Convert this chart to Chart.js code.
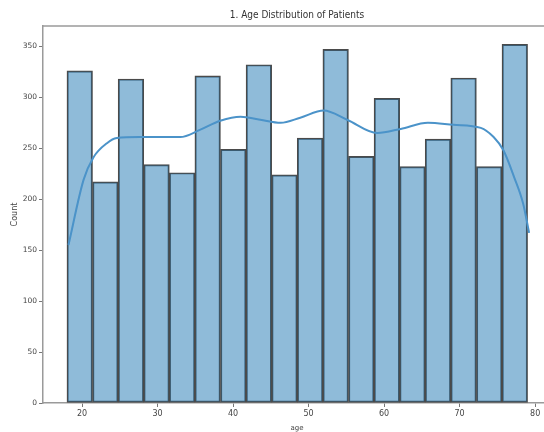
<!DOCTYPE html>
<html>
<head>
<meta charset="utf-8">
<script src="https://cdn.jsdelivr.net/npm/chart.js@4/dist/chart.umd.min.js"></script>
<style>
  html, body { margin: 0; padding: 0; background: #fff; overflow: hidden; }
  #wrap { width: 544px; height: 432px; overflow: hidden; }
</style>
</head>
<body>
<div id="wrap"><canvas id="c" width="594" height="432"></canvas></div>
<script>
// Histogram bins of patient age (bin edges) and counts
const binEdges = [18.0, 21.39, 24.78, 28.17, 31.56, 34.94, 38.33, 41.72, 45.11, 48.5,
                  51.89, 55.28, 58.67, 62.06, 65.44, 68.83, 72.22, 75.61, 79.0];
const binCounts = [326, 217, 318, 234, 226, 321, 249, 332, 224, 260, 347, 242, 299, 232, 259, 319, 232, 352];

// KDE curve (scaled to counts)
const kdeAges =   [18.2, 20.2, 21.5, 23.3, 24.6, 27.7, 29.0, 33.0, 35.6, 38.3, 41.0, 43.6, 46.3, 48.9,
                   52.0, 55.1, 59.1, 62.2, 65.8, 69.2, 72.8, 74.5, 75.8, 77.2, 78.4, 79.2];
const kdeCounts = [155, 219, 241, 255, 260, 261, 261, 261, 268, 277, 281, 278, 275, 280,
                   287, 278, 265, 269, 275, 273, 270, 261, 248, 222, 196, 167];

const xTicks = [20, 30, 40, 50, 60, 70, 80];
const yTicks = [0, 50, 100, 150, 200, 250, 300, 350];

const titleText = "1. Age Distribution of Patients";
const xTitle = "age";
const yTitle = "Count";

const barData = binCounts.map((v, i) => ({ x: (binEdges[i] + binEdges[i + 1]) / 2, y: v }));
const kdeData = kdeAges.map((a, i) => ({ x: a, y: kdeCounts[i] }));

const frame = {
  id: 'frame',
  afterDraw(chart) {
    const { ctx, chartArea } = chart;
    ctx.save();
    ctx.strokeStyle = '#9a9a9a';
    ctx.lineWidth = 1.5;
    ctx.beginPath();
    ctx.moveTo(chartArea.left, chartArea.top);
    ctx.lineTo(chartArea.right, chartArea.top);
    ctx.lineTo(chartArea.right, chartArea.bottom);
    ctx.stroke();
    ctx.restore();
  }
};

new Chart(document.getElementById('c'), {
  type: 'bar',
  data: {
    datasets: [
      {
        type: 'line',
        label: 'kde',
        data: kdeData,
        borderColor: '#4b93c9',
        borderWidth: 2,
        pointRadius: 0,
        tension: 0.4,
        cubicInterpolationMode: 'monotone',
        fill: false,
        order: 0
      },
      {
        type: 'bar',
        label: 'count',
        data: barData,
        backgroundColor: 'rgba(31,119,180,0.5)',
        borderColor: '#4a4a4a',
        borderWidth: 1.3,
        borderSkipped: false,
        barPercentage: 1.0,
        categoryPercentage: 1.0,
        order: 1
      }
    ]
  },
  options: {
    responsive: false,
    animation: false,
    devicePixelRatio: 1,
    layout: { padding: { left: 0, right: 0, top: 0, bottom: 0 } },
    plugins: {
      legend: { display: false },
      tooltip: { enabled: false },
      title: {
        display: true,
        text: titleText,
        color: '#333',
        font: { family: 'Liberation Sans Narrow, DejaVu Sans Condensed, DejaVu Sans', size: 10, weight: 'normal' },
        padding: { top: 9, bottom: 5 }
      }
    },
    scales: {
      x: {
        type: 'linear',
        offset: false,
        min: 14.83,
        max: 82.1,
        afterBuildTicks(scale) { scale.ticks = xTicks.map(v => ({ value: v })); },
        afterFit(scale) { scale.height = 29; },
        ticks: {
          color: '#444',
          font: { family: 'DejaVu Sans', size: 8 },
          padding: 2,
          maxRotation: 0,
          autoSkip: false
        },
        grid: { offset: false, drawOnChartArea: false, drawTicks: true, tickLength: 4, color: '#777' },
        border: { display: true, color: '#9a9a9a', width: 1.5 },
        title: {
          display: true,
          text: xTitle,
          color: '#444',
          font: { family: 'DejaVu Sans', size: 7 },
          padding: { top: 0, bottom: 0 }
        }
      },
      y: {
        type: 'linear',
        min: 0,
        max: 370,
        afterBuildTicks(scale) { scale.ticks = yTicks.map(v => ({ value: v })); },
        afterFit(scale) { scale.width = 43; },
        ticks: {
          color: '#444',
          font: { family: 'DejaVu Sans', size: 7.5 },
          padding: 2
        },
        grid: { drawOnChartArea: false, drawTicks: true, tickLength: 4, color: '#777' },
        border: { display: true, color: '#9a9a9a', width: 1.5 },
        title: {
          display: true,
          text: yTitle,
          color: '#444',
          font: { family: 'DejaVu Sans', size: 8 },
          padding: { top: 10, bottom: 0 }
        }
      },
      yRightSpace: {
        type: 'linear',
        position: 'right',
        display: true,
        min: 0,
        max: 370,
        afterFit(scale) { scale.width = 43; },
        ticks: { display: false },
        grid: { display: false, drawTicks: false },
        border: { display: false }
      }
    }
  },
  plugins: [frame]
});
</script>
</body>
</html>
